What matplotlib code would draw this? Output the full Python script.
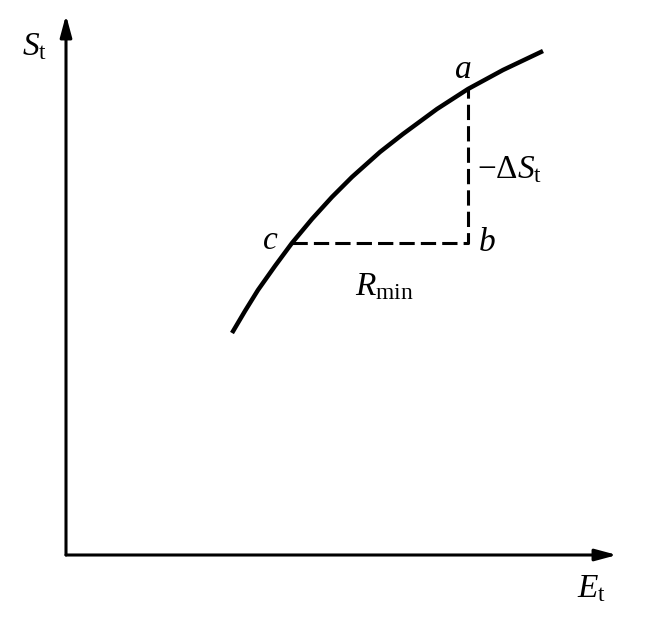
import matplotlib.pyplot as plt

plt.rcParams["mathtext.fontset"] = "custom"
plt.rcParams["mathtext.rm"] = "Liberation Serif"
plt.rcParams["mathtext.it"] = "Liberation Serif:italic"
plt.rcParams["font.family"] = ["Liberation Serif", "DejaVu Serif"]

# curve (E_t, S_t), arbitrary units
curve_e = [166, 179, 192, 209, 226, 246, 266, 286, 314, 337, 371, 402, 437, 477]
curve_s = [222, 244, 265, 289, 312, 336, 358, 378, 403, 421, 446, 466, 485, 504]

# points a, b, c
pt_a = (402, 466)
pt_b = (402, 312)
pt_c = (226, 312)

x_axis_end = 551
y_axis_end = 540


def main():
    fig = plt.figure(figsize=(6.54, 6.17), dpi=100)
    ax = fig.add_axes([0, 0, 1, 1])
    ax.set_xlim(-66, 588)
    ax.set_ylim(-62, 555)
    ax.axis("off")

    arrow = dict(arrowstyle="-|>,head_length=1.3,head_width=0.35",
                 color="black", lw=2.2, shrinkA=0, shrinkB=0)
    ax.annotate("", xy=(x_axis_end, 0), xytext=(0, 0), arrowprops=arrow)
    ax.annotate("", xy=(0, y_axis_end), xytext=(0, 0), arrowprops=arrow)

    ax.plot(curve_e, curve_s, color="black", lw=3.2,
            solid_capstyle="butt", solid_joinstyle="round")

    # dashed construction lines
    ax.plot([pt_c[0], pt_b[0], pt_a[0]], [pt_c[1], pt_b[1], pt_a[1]],
            color="black", lw=2.2, ls=(0, (5, 2)))

    fs = 24
    ax.text(-31, 508, r"$S_\mathrm{t}$", fontsize=fs, ha="center", va="center")
    ax.text(526, -34, r"$E_\mathrm{t}$", fontsize=fs, ha="center", va="center")
    ax.text(397, 485, r"$a$", fontsize=fs, ha="center", va="center")
    ax.text(421, 312, r"$b$", fontsize=fs, ha="center", va="center")
    ax.text(204, 314, r"$c$", fontsize=fs, ha="center", va="center")
    ax.text(411, 385, r"$-\Delta S_\mathrm{t}$", fontsize=fs, ha="left", va="center")
    ax.text(318, 268, r"$R_\mathrm{min}$", fontsize=fs, ha="center", va="center")

    fig.savefig("out.png", dpi=100)


if __name__ == "__main__":
    main()
